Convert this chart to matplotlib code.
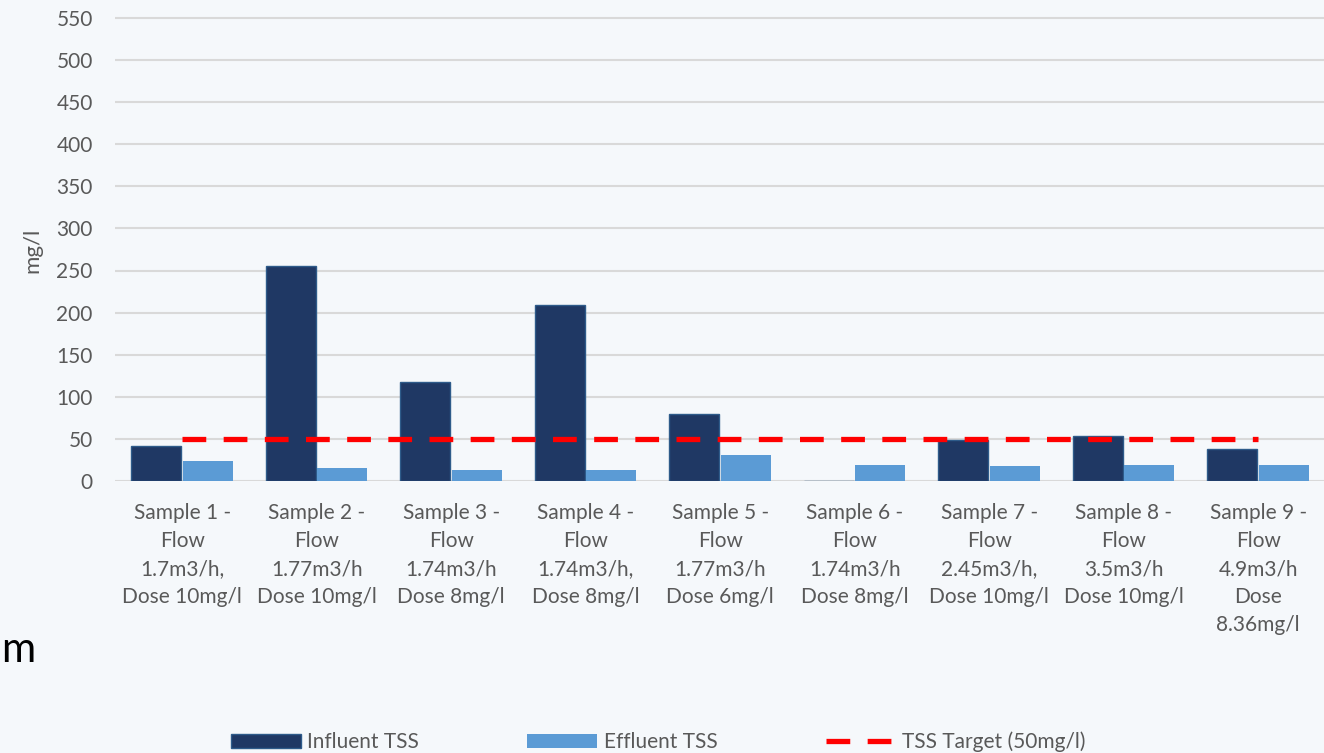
import numpy as np
import matplotlib.pyplot as plt

plt.rcParams["font.family"] = ["Lato", "DejaVu Sans"]

# Data
samples = [
    "Sample 1 -\nFlow\n1.7m3/h,\nDose 10mg/l",
    "Sample 2 -\nFlow\n1.77m3/h\nDose 10mg/l",
    "Sample 3 -\nFlow\n1.74m3/h\nDose 8mg/l",
    "Sample 4 -\nFlow\n1.74m3/h,\nDose 8mg/l",
    "Sample 5 -\nFlow\n1.77m3/h\nDose 6mg/l",
    "Sample 6 -\nFlow\n1.74m3/h\nDose 8mg/l",
    "Sample 7 -\nFlow\n2.45m3/h,\nDose 10mg/l",
    "Sample 8 -\nFlow\n3.5m3/h\nDose 10mg/l",
    "Sample 9 -\nFlow\n4.9m3/h\nDose\n8.36mg/l",
]
influent = [41, 255, 117, 209, 80, 0, 49, 53, 38]
effluent = [24, 15, 13, 13, 31, 19, 18, 19, 19]
target = [50, 50, 50, 50, 50, 50, 50, 50, 50]
y_ticks = [0, 50, 100, 150, 200, 250, 300, 350, 400, 450, 500, 550]

text_col = "#595959"

fig = plt.figure(figsize=(13.24, 7.53), dpi=100)
fig.patch.set_facecolor("#f5f8fb")

W, H = 1324, 753
ax = fig.add_axes([115 / W, 1 - 481 / H, 1210.5 / W, 555 * 0.842 / H])
ax.set_facecolor("none")

x = np.arange(len(samples))
w = 0.372
b1 = ax.bar(x - 0.193, influent, w, color="#1F3864", edgecolor="#2E5B8A",
            linewidth=1, zorder=2, label="Influent TSS")
b2 = ax.bar(x + 0.19, effluent, w, color="#5B9BD5", zorder=2, label="Effluent TSS")
l1, = ax.plot(x, target, color="#FF0000", lw=3.8, dashes=(4.5, 3.3), zorder=3,
              label="TSS Target (50mg/l)")

ax.set_xlim(-0.5, len(samples) - 0.5)
ax.set_ylim(0, 555)
ax.set_yticks(y_ticks)
ax.set_xticks(x)
ax.set_xticklabels(samples, fontsize=15, color=text_col, linespacing=1.5)
ax.tick_params(axis="y", length=0, pad=16, labelsize=15, labelcolor=text_col)
ax.tick_params(axis="x", length=0, pad=16)
ax.yaxis.grid(True, color="#d9d9d9", lw=1.5)
ax.set_axisbelow(True)
for s in ax.spines.values():
    s.set_visible(False)

fig.text(32 / W, 1 - 250 / H, "mg/l", rotation=90, fontsize=16, color=text_col,
         ha="center", va="center")

# leftover slide text on the left edge
fig.text(1 / W, 1 - 662 / H, "m", fontsize=30, color="black", ha="left",
         va="baseline")

fig.legend(handles=[b1, b2, l1], loc="center left",
           bbox_to_anchor=(231 / W, 1 - 742 / H), ncol=3,
           frameon=False, fontsize=15, handlelength=3.36, handleheight=0.67,
           handletextpad=0.3, columnspacing=5.2, borderpad=0, borderaxespad=0,
           labelcolor=text_col)

fig.savefig("out.png", dpi=100, facecolor=fig.get_facecolor())
